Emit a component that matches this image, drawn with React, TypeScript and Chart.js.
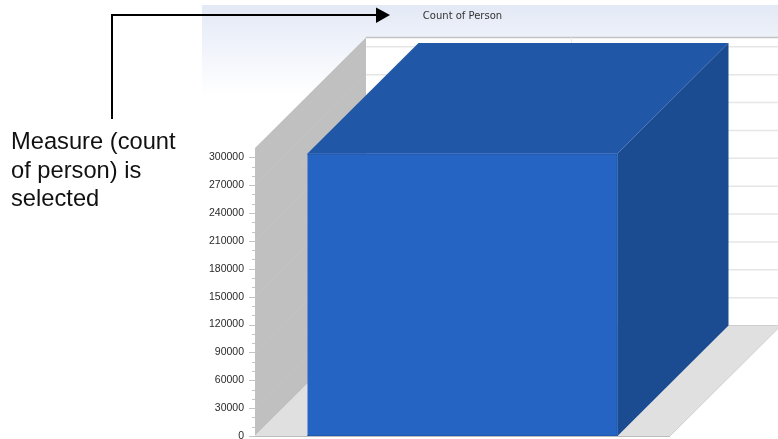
import React, { useEffect, useRef } from "react";
import { Chart, registerables } from "chart.js";

Chart.register(...registerables);

const categories = ["Total"];
const personCounts = [304000];
const axisMax = 310000;
const axisTop = 300000;
const tickStep = 10000;
const labelStep = 30000;
const measureLines = ["Measure (count", "of person) is", "selected"];
const measureTitle = "Count of Person";

const DEPTH_X = 111;
const DEPTH_Y = -110.5;

function polygon(ctx: CanvasRenderingContext2D, pts: number[][], fill: string) {
  ctx.beginPath();
  pts.forEach(([x, y], i) => (i ? ctx.lineTo(x, y) : ctx.moveTo(x, y)));
  ctx.closePath();
  ctx.fillStyle = fill;
  ctx.fill();
}

function line(ctx: CanvasRenderingContext2D, x0: number, y0: number, x1: number, y1: number, color: string, width = 1) {
  ctx.beginPath();
  ctx.moveTo(x0, y0);
  ctx.lineTo(x1, y1);
  ctx.strokeStyle = color;
  ctx.lineWidth = width;
  ctx.stroke();
}

// Header band, walls, floor, depth faces of the column and the callout arrow.
const scene = {
  id: "scene",
  beforeDraw(chart: any) {
    const { ctx, width } = chart;
    const g = ctx.createLinearGradient(0, 5, 0, 95);
    g.addColorStop(0, "#e3e9f5");
    g.addColorStop(0.5, "#f1f4fb");
    g.addColorStop(1, "#ffffff");
    ctx.fillStyle = g;
    ctx.fillRect(202, 5, width - 202, 90);
  },
  beforeDatasetsDraw(chart: any) {
    const { ctx, chartArea: a, scales, width } = chart;
    const y = scales.y;
    ctx.save();

    // back wall
    const backL = a.left + DEPTH_X;
    const backTop = a.top + DEPTH_Y;
    const backBottom = a.bottom + DEPTH_Y;
    ctx.fillStyle = "#ffffff";
    ctx.fillRect(backL, backTop, width - backL, backBottom - backTop);

    // side wall
    polygon(ctx, [[a.left, a.top], [backL, backTop], [backL, backBottom], [a.left, a.bottom]], "#c0c0c0");

    // floor
    polygon(ctx, [[a.left, a.bottom], [backL, backBottom], [a.right + DEPTH_X, backBottom], [a.right, a.bottom]], "#e0e0e0");
    line(ctx, backL, backBottom, width, backBottom, "#cfcfcf");
    line(ctx, a.right, a.bottom, a.right + DEPTH_X, backBottom, "#d0d0d0");

    // grid on walls
    for (let v = labelStep; v <= axisTop; v += labelStep) {
      const py = y.getPixelForValue(v);
      line(ctx, a.left, py, backL, py + DEPTH_Y, "#c4c4c4");
      line(ctx, backL, py + DEPTH_Y, width, py + DEPTH_Y, "#e6e6e6", 1.5);
    }
    line(ctx, backL, backTop, width, backTop, "#c2c2c2", 1.5);
    line(ctx, 571.5, backTop, 571.5, backBottom, "#ececec");

    // axis baseline and tick marks
    line(ctx, a.left, a.bottom + 0.5, a.right, a.bottom + 0.5, "#bdbdbd");
    y.ticks.forEach((t: any) => {
      if (t.value > axisTop) return;
      const py = Math.round(y.getPixelForValue(t.value)) + 0.5;
      const len = t.value % labelStep === 0 ? 6 : 3;
      line(ctx, a.left - len, py, a.left, py, "#c4c4c4");
    });

    // column depth faces
    const bar = chart.getDatasetMeta(0).data[0];
    const left = bar.x - bar.width / 2;
    const right = bar.x + bar.width / 2;
    polygon(ctx, [[left, bar.y], [left + DEPTH_X, bar.y + DEPTH_Y], [right + DEPTH_X, bar.y + DEPTH_Y], [right, bar.y]], "#2057a7");
    polygon(ctx, [[right, bar.y], [right + DEPTH_X, bar.y + DEPTH_Y], [right + DEPTH_X, bar.base + DEPTH_Y], [right, bar.base]], "#1b4c92");
    ctx.restore();
  },
  afterDatasetsDraw(chart: any) {
    const { ctx } = chart;
    const bar = chart.getDatasetMeta(0).data[0];
    const left = bar.x - bar.width / 2;
    const right = bar.x + bar.width / 2;
    ctx.save();
    // darker rim along the column's front face
    line(ctx, left, bar.y + 0.5, right, bar.y + 0.5, "#2059ad");
    line(ctx, right - 0.5, bar.y, right - 0.5, bar.base, "#2059ad");
    line(ctx, left, bar.base - 0.5, right, bar.base - 0.5, "#2059ad");
    ctx.restore();
  },
  afterDraw(chart: any) {
    const { ctx } = chart;
    ctx.save();
    ctx.beginPath();
    ctx.moveTo(112, 119);
    ctx.lineTo(112, 15);
    ctx.lineTo(378, 15);
    ctx.strokeStyle = "#000000";
    ctx.lineWidth = 2;
    ctx.stroke();
    polygon(ctx, [[376, 7.5], [390, 15], [376, 23]], "#000000");
    ctx.restore();
  },
};

export default function App() {
  const ref = useRef<HTMLCanvasElement>(null);

  useEffect(() => {
    const chart = new Chart(ref.current!, {
      type: "bar",
      data: {
        labels: categories,
        datasets: [
          {
            label: measureTitle,
            data: personCounts,
            backgroundColor: "#2564c2",
            borderWidth: 0,
            barPercentage: 0.747,
            categoryPercentage: 1,
          },
        ],
      },
      options: {
        responsive: false,
        animation: false,
        layout: { padding: { left: 0, right: 108, top: 0, bottom: 3 } },
        plugins: {
          legend: { display: false },
          tooltip: { enabled: false },
          title: {
            display: true,
            text: measureTitle,
            fullSize: false,
            color: "#333333",
            font: { family: "DejaVu Sans", size: 10, weight: "normal" },
            padding: { top: 10, bottom: 126 },
          },
        },
        scales: {
          x: { display: false },
          y: {
            min: 0,
            max: axisMax,
            afterFit(scale: any) {
              scale.width = 255;
              scale.paddingTop = 0;
              scale.paddingBottom = 0;
            },
            border: { display: false },
            grid: { display: false, drawTicks: false },
            ticks: {
              stepSize: tickStep,
              includeBounds: false,
              autoSkip: false,
              padding: 11,
              color: "#2a2a2a",
              font: { family: "Liberation Sans", size: 10.5 },
              callback: (v: any) => (v % labelStep === 0 && v <= axisTop ? String(v) : ""),
            },
          },
        },
      },
      plugins: [scene],
    } as any);
    return () => chart.destroy();
  }, []);

  return (
    <div style={{ position: "absolute", left: 0, top: 0, width: 778, height: 439, overflow: "hidden", background: "#ffffff" }}>
      <canvas ref={ref} width={778} height={439} style={{ display: "block" }} />
      <div
        style={{
          position: "absolute",
          left: 11,
          top: 127,
          fontFamily: "Liberation Sans",
          fontSize: 23.7,
          lineHeight: "28.5px",
          color: "#111111",
          whiteSpace: "nowrap",
        }}
      >
        {measureLines.map((t) => (
          <div key={t}>{t}</div>
        ))}
      </div>
    </div>
  );
}
